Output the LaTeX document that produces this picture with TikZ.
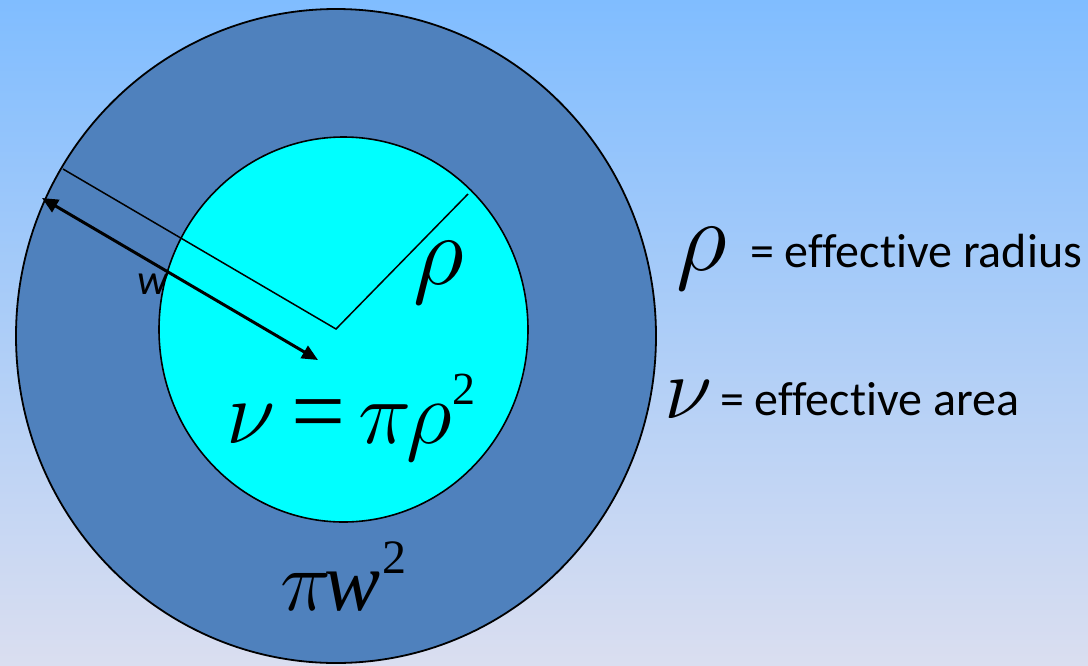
\RequirePackage{fix-cm}
\documentclass[tikz,border=0pt]{standalone}
\usepackage{fontspec}
\setmainfont{Carlito}[Ligatures=NoCommon]
\newfontfamily\tms{Liberation Serif}
\usetikzlibrary{arrows.meta,shapes.geometric}
\definecolor{bgtop}{RGB}{128,189,255}
\definecolor{bgbot}{RGB}{218,222,240}
\definecolor{ring}{RGB}{79,129,189}
\definecolor{core}{RGB}{0,255,255}
\tikzset{
  disc/.style={ellipse, draw=black, inner sep=0pt, outer sep=0pt},
  thinline/.style={draw=black, line width=1.5pt},
  dimarrow/.style={draw=black, line width=3pt, {Triangle[length=16pt,width=14pt]}-{Triangle[length=16pt,width=14pt]}},
  lbl/.style={anchor=base west, inner sep=0pt, outer sep=0pt},
}
\newcommand{\supnum}[2]{\raisebox{#1}{\tms\fontsize{#2}{#2}\selectfont 2}}
\newcommand{\fs}[1]{\fontsize{#1}{#1}\selectfont}
\begin{document}
\begin{tikzpicture}[x=1pt,y=-1pt]
\shade[top color=bgtop,bottom color=bgbot] (0,0) rectangle (1088,665);
\useasboundingbox (0,0) rectangle (1088,665);
\node[disc, fill=ring, line width=1.8pt, minimum width=640pt, minimum height=654pt] (outer) at (336,336) {};
\node[disc, fill=core, line width=1.6pt, minimum width=369pt, minimum height=385pt] (inner) at (343.5,329.5) {};
\coordinate (V) at (336,329);
\coordinate (P) at (468,194);
\coordinate (Q) at (63,169);
\draw[thinline] (Q) -- (V) -- (P);
\coordinate (A1) at (42,198);
\coordinate (A2) at (318,360);
\draw[dimarrow] (A1) -- (A2);
\node[lbl] (wl) at (137,294) {\fs{43}\itshape w};
\node[lbl] (rhoin) at (413,284) {\fs{100}$\rho$};
\node[lbl] (eq) at (226,443) {\fs{90}$\nu$\kern16pt{\tms\fs{96}=}\kern13pt$\pi$\kern-5pt$\rho$\supnum{39pt}{46}};
\node[lbl] (area) at (280,610) {\fs{86}$\pi$\kern-6pt{\tms\itshape\fs{84}w}\kern2pt\supnum{37pt}{48}};
\node[lbl] (rhoR) at (676,270) {\fs{100}$\rho$};
\node[lbl] (rtxt) at (750,267) {\fs{48}= effective radius};
\node[lbl] (nuR) at (664,418) {\fs{88}$\nu$};
\node[lbl] (atxt) at (720,415) {\fs{48}= effective area};
\end{tikzpicture}
\end{document}
